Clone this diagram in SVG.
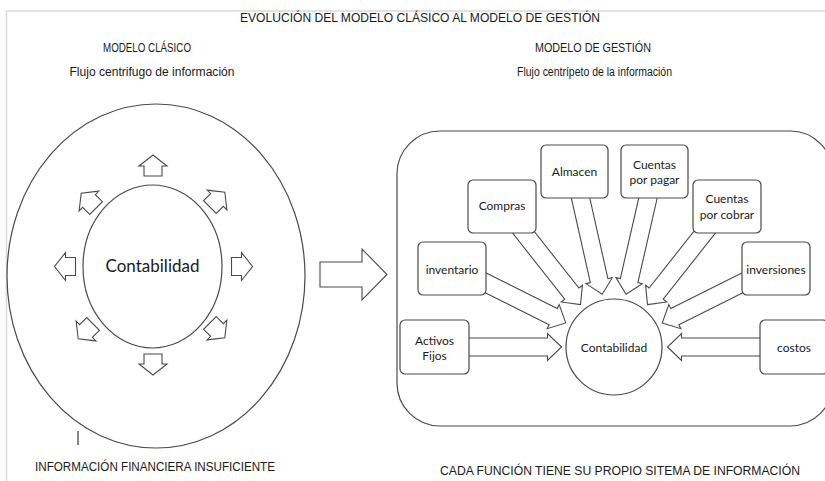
<svg xmlns="http://www.w3.org/2000/svg" xmlns:xlink="http://www.w3.org/1999/xlink" width="825" height="481" viewBox="0 0 825 481">
<style>
.frame{fill:none;stroke:#d9d9d9;stroke-width:1.5}
.ln{fill:none;stroke:#4a4a4a;stroke-width:1.2}
.box{fill:#fff;stroke:#4a4a4a;stroke-width:1.2}
.blk{fill:#fff;stroke:#4a4a4a;stroke-width:1.1;stroke-linejoin:miter}
.hd{font-family:"Liberation Sans",Arial,sans-serif;font-size:12px;fill:#1a1a1a;text-anchor:middle}
.lb{font-family:Lato,"Open Sans",sans-serif;font-size:12px;fill:#1a1a1a;text-anchor:middle}
.big{font-family:Lato,"Open Sans",sans-serif;font-size:17px;fill:#1a1a1a;text-anchor:middle}
</style>
<defs>
<polygon id="sa" class="blk" points="-10,-9 0,-9 0,-14 11,0 0,14 0,9 -10,9"/>
</defs>
<rect width="825" height="481" fill="#fff"/>
<path class="frame" d="M6.5,481 V11 H825"/>

<g id="titles">
<text class="hd" x="420" y="22" textLength="360" lengthAdjust="spacingAndGlyphs">EVOLUCIÓN DEL MODELO CLÁSICO AL MODELO DE GESTIÓN</text>
<text class="hd" x="147" y="52" textLength="88" lengthAdjust="spacingAndGlyphs">MODELO CLÁSICO</text>
<text class="hd" x="152" y="76" textLength="165" lengthAdjust="spacingAndGlyphs">Flujo centrifugo de información</text>
<text class="hd" x="593" y="52" textLength="116" lengthAdjust="spacingAndGlyphs">MODELO DE GESTIÓN</text>
<text class="hd" x="594.5" y="76" textLength="155" lengthAdjust="spacingAndGlyphs">Flujo centrípeto de la información</text>
<text class="hd" x="155" y="471" textLength="240" lengthAdjust="spacingAndGlyphs">INFORMACIÓN FINANCIERA INSUFICIENTE</text>
<text class="hd" x="620" y="475" textLength="360" lengthAdjust="spacingAndGlyphs">CADA FUNCIÓN TIENE SU PROPIO SITEMA DE INFORMACIÓN</text>
</g>

<g id="modelo-clasico">
<ellipse class="ln" cx="156" cy="276" rx="149" ry="172"/>
<line x1="78" y1="431" x2="78" y2="445" stroke="#111" stroke-width="1"/>
</g>
<g id="contabilidad-clasica">
<ellipse class="ln" cx="152.5" cy="266.5" rx="69.5" ry="81.5"/>
<text class="big" x="152.5" y="272">Contabilidad</text>
</g>
<g id="radial-arrows">
<use xlink:href="#sa" transform="translate(153,166) rotate(-90)"/>
<use xlink:href="#sa" transform="translate(153,364) rotate(90)"/>
<use xlink:href="#sa" transform="translate(65.5,266.5) rotate(180)"/>
<use xlink:href="#sa" transform="translate(241.5,266.5)"/>
<use xlink:href="#sa" transform="translate(217,200) rotate(-45)"/>
<use xlink:href="#sa" transform="translate(89,201) rotate(-135)"/>
<use xlink:href="#sa" transform="translate(86,331) rotate(135)"/>
<use xlink:href="#sa" transform="translate(217,330) rotate(45)"/>
</g>

<g id="modelo-gestion">
<rect class="ln" x="397" y="131" width="436" height="295" rx="43" ry="43"/>
</g>

<g id="connectors">
<polygon class="blk" points="320,262 362,262 362,249 387,274.5 362,300 362,287 320,287"/>
<polygon class="blk" transform="translate(561.5,347)" points="0,0 -14,-13.5 -14,-9 -100,-9 -100,9 -14,9 -14,13.5"/>
<polygon class="blk" transform="translate(667.5,347) rotate(180)" points="0,0 -14,-13.5 -14,-9 -100,-9 -100,9 -14,9 -14,13.5"/>
<polygon class="blk" transform="translate(565.7,322.9) rotate(26.57)" points="0,0 -14,-13.5 -14,-9 -99,-9 -99,9 -14,9 -14,13.5"/>
<polygon class="blk" transform="translate(662.3,322.9) rotate(153.43)" points="0,0 -14,-13.5 -14,-9 -99,-9 -99,9 -14,9 -14,13.5"/>
<polygon class="blk" transform="translate(580.5,304.6) rotate(51.71)" points="0,0 -14,-13.5 -14,-9 -101,-9 -101,9 -14,9 -14,13.5"/>
<polygon class="blk" transform="translate(647.5,304.6) rotate(128.29)" points="0,0 -14,-13.5 -14,-9 -101,-9 -101,9 -14,9 -14,13.5"/>
<polygon class="blk" transform="translate(602.2,294.3) rotate(77.33)" points="0,0 -14,-13.5 -14,-9 -108,-9 -108,9 -14,9 -14,13.5"/>
<polygon class="blk" transform="translate(626,294.3) rotate(102.85)" points="0,0 -14,-13.5 -14,-9 -108,-9 -108,9 -14,9 -14,13.5"/>
</g>

<g id="contabilidad">
<circle class="box" cx="614" cy="347" r="48"/>
<text class="lb" x="614" y="351.5">Contabilidad</text>
</g>
<g id="almacen">
<rect class="box" x="541" y="145" width="67" height="53" rx="5"/>
<text class="lb" x="574.5" y="176">Almacen</text>
</g>
<g id="cuentas-por-pagar">
<rect class="box" x="621" y="145" width="67" height="53" rx="5"/>
<text class="lb" x="654.5" y="168.5">Cuentas</text>
<text class="lb" x="654.5" y="183.5">por pagar</text>
</g>
<g id="compras">
<rect class="box" x="468" y="180" width="68" height="53" rx="5"/>
<text class="lb" x="502" y="210">Compras</text>
</g>
<g id="cuentas-por-cobrar">
<rect class="box" x="693" y="180" width="68" height="53" rx="5"/>
<text class="lb" x="727" y="203">Cuentas</text>
<text class="lb" x="727" y="218.5">por cobrar</text>
</g>
<g id="inventario">
<rect class="box" x="418" y="242" width="68" height="53" rx="5"/>
<text class="lb" x="452" y="273.5">inventario</text>
</g>
<g id="inversiones">
<rect class="box" x="742" y="242" width="68" height="53" rx="5"/>
<text class="lb" x="776" y="273.5">inversiones</text>
</g>
<g id="activos-fijos">
<rect class="box" x="400" y="320" width="69" height="54" rx="5"/>
<text class="lb" x="434.5" y="345">Activos</text>
<text class="lb" x="434.5" y="359.5">Fijos</text>
</g>
<g id="costos">
<rect class="box" x="760" y="320" width="68" height="54" rx="5"/>
<text class="lb" x="794" y="351.5">costos</text>
</g>
</svg>
